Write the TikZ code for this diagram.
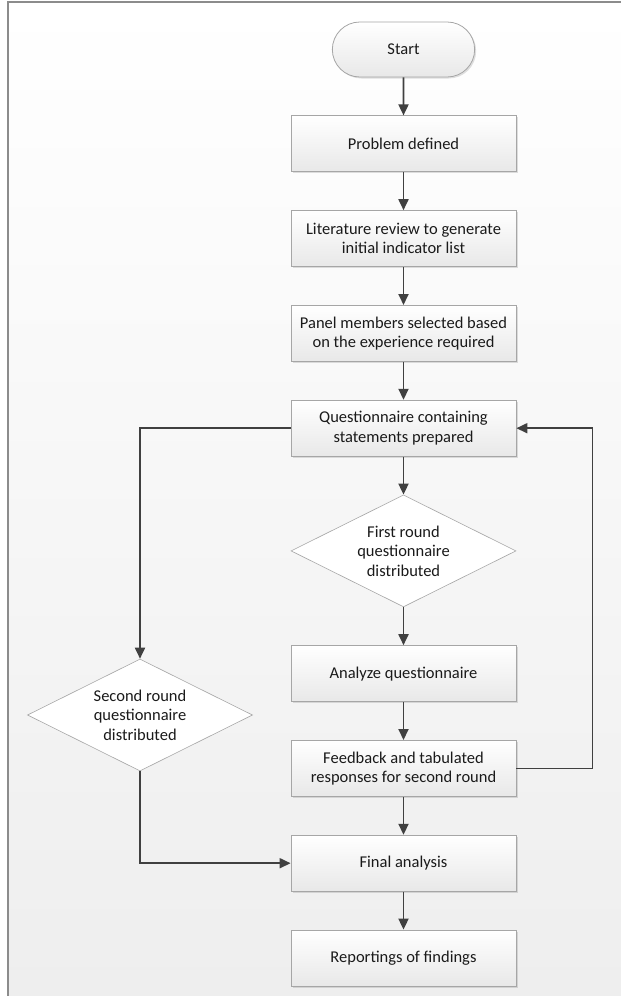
\documentclass[tikz,border=0pt]{standalone}
\usepackage{fontspec}
\setmainfont{Carlito}
\usetikzlibrary{positioning,shapes.geometric,shapes.misc,arrows.meta,shadows}
\definecolor{linegray}{HTML}{404040}
\definecolor{boxgray}{HTML}{A6A6A6}
\definecolor{boxbot}{HTML}{E8E8E8}
\definecolor{pagebot}{HTML}{EEEEEE}
\definecolor{framegray}{HTML}{8C8C8C}
\definecolor{txt}{HTML}{1A1A1A}
\begin{document}
\begin{tikzpicture}[x=1pt,y=-1pt,>={Triangle[width=10pt,length=11pt]},
  font=\fontsize{16.5}{19.5}\selectfont,text=txt,node distance=38pt,
  proc/.style={rectangle,draw=boxgray,line width=0.8pt,top color=white,bottom color=boxbot,
    minimum width=225pt,minimum height=56pt,align=center,
    drop shadow={opacity=0.25,shadow xshift=1.5pt,shadow yshift=-1.5pt}},
  term/.style={proc,rounded rectangle,minimum width=149pt,minimum height=55pt},
  decide/.style={diamond,draw=boxgray,line width=0.6pt,fill=white,aspect=2,
    minimum width=225pt,minimum height=112pt,inner sep=0pt,align=center},
  flow/.style={->,draw=linegray,line width=1.8pt}]
  \useasboundingbox (0,0) rectangle (621,996);
  % page
  \shade[top color=white,bottom color=pagebot] (8,2) rectangle (621,996);
  \draw[framegray,line width=1.5pt] (8,996)--(8,2)--(621,2);
  % main column
  \node[term] (start) at (403.5,49.5) {Start};
  \node[proc,below=of start] (prob) {Problem defined};
  \node[proc,below=of prob] (lit) {Literature review to generate\\initial indicator list};
  \node[proc,below=of lit] (panel) {Panel members selected based\\on the experience required};
  \node[proc,below=of panel] (quest) {Questionnaire containing\\statements prepared};
  \node[decide,below=of quest] (first) {First round\\questionnaire\\distributed};
  \node[proc,below=of first] (analyze) {Analyze questionnaire};
  \node[proc,below=of analyze] (feed) {Feedback and tabulated\\responses for second round};
  \node[proc,below=of feed] (final) {Final analysis};
  \node[proc,below=of final] (report) {Reportings of findings};
  \node[decide] (second) at (140,715) {Second round\\questionnaire\\distributed};
  % connectors
  \draw[flow] (start)--(prob);
  \draw[flow] (prob)--(lit);
  \draw[flow] (lit)--(panel);
  \draw[flow] (panel)--(quest);
  \draw[flow] (quest)--(first);
  \draw[flow] (first)--(analyze);
  \draw[flow] (analyze)--(feed);
  \draw[flow] (feed)--(final);
  \draw[flow] (final)--(report);
  \draw[flow] (quest.west)-|(second.north);
  \draw[flow] (second.south)|-(final.west);
  \draw[flow] (feed.east)--++(76,0)|-(quest.east);
\end{tikzpicture}
\end{document}
